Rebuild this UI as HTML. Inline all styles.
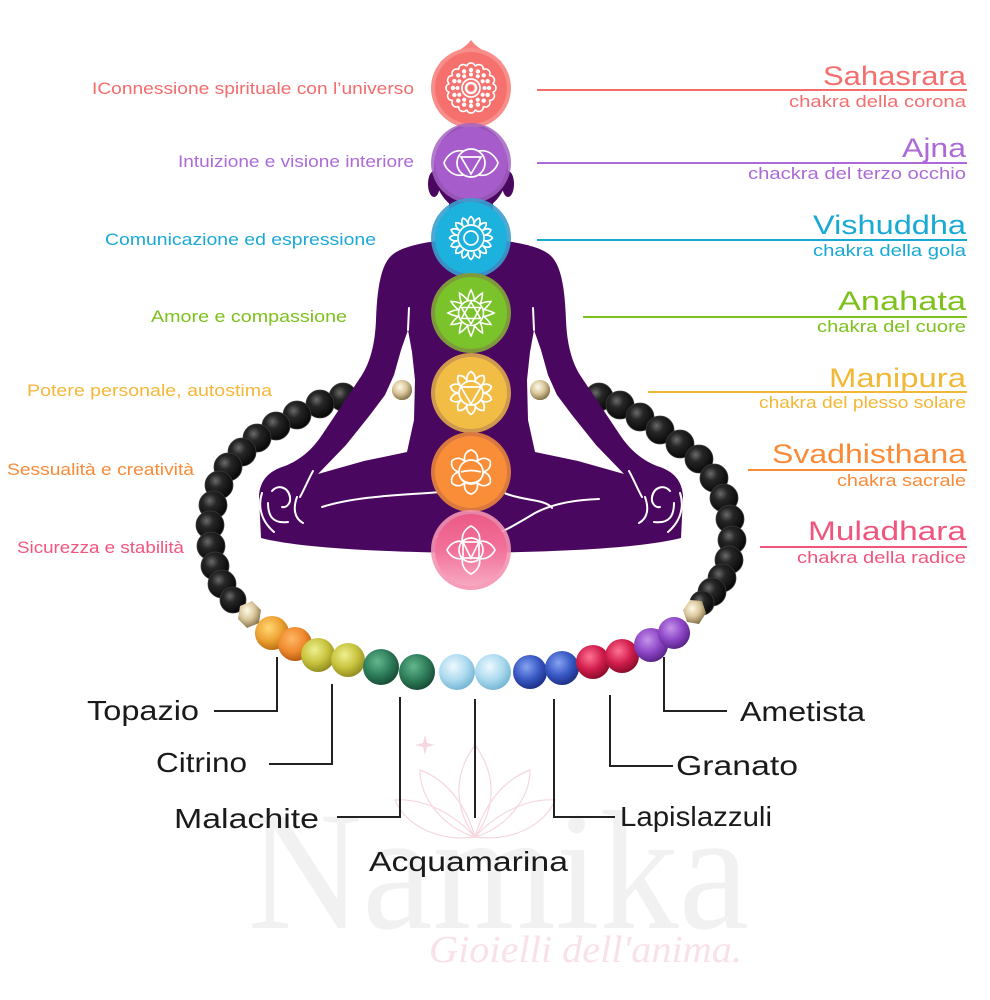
<!DOCTYPE html>
<html><head><meta charset="utf-8"><style>
html,body{margin:0;padding:0;background:#fff;}
svg{display:block;}
text{font-family:"Liberation Sans","DejaVu Sans",sans-serif;}
</style></head><body>
<svg width="990" height="1000" viewBox="0 0 990 1000" xmlns="http://www.w3.org/2000/svg">
<defs>
<radialGradient id="gBlk" cx="38%" cy="35%" r="70%"><stop offset="0" stop-color="#6a6a6a"/><stop offset="0.35" stop-color="#262626"/><stop offset="1" stop-color="#050505"/></radialGradient>
<radialGradient id="gGold" cx="40%" cy="35%" r="70%"><stop offset="0" stop-color="#fffbe8"/><stop offset="0.5" stop-color="#d9c59a"/><stop offset="1" stop-color="#7a6840"/></radialGradient>
<radialGradient id="gT1" cx="40%" cy="35%" r="70%"><stop offset="0" stop-color="#ffd873"/><stop offset="0.55" stop-color="#eda232"/><stop offset="1" stop-color="#b5670f"/></radialGradient>
<radialGradient id="gT2" cx="40%" cy="35%" r="70%"><stop offset="0" stop-color="#ffb765"/><stop offset="0.55" stop-color="#ef8a2e"/><stop offset="1" stop-color="#b0550e"/></radialGradient>
<radialGradient id="gCi" cx="40%" cy="35%" r="70%"><stop offset="0" stop-color="#eef091"/><stop offset="0.55" stop-color="#c8c33e"/><stop offset="1" stop-color="#8a861c"/></radialGradient>
<radialGradient id="gMa" cx="40%" cy="35%" r="70%"><stop offset="0" stop-color="#63b88e"/><stop offset="0.55" stop-color="#2e7d5a"/><stop offset="1" stop-color="#154630"/></radialGradient>
<radialGradient id="gAq" cx="40%" cy="35%" r="70%"><stop offset="0" stop-color="#eef9fe"/><stop offset="0.55" stop-color="#acdaef"/><stop offset="1" stop-color="#6eb0d0"/></radialGradient>
<radialGradient id="gLa" cx="40%" cy="35%" r="70%"><stop offset="0" stop-color="#86a3f2"/><stop offset="0.55" stop-color="#3858c4"/><stop offset="1" stop-color="#1a2b7c"/></radialGradient>
<radialGradient id="gGa" cx="40%" cy="35%" r="70%"><stop offset="0" stop-color="#ff7393"/><stop offset="0.55" stop-color="#d01c4c"/><stop offset="1" stop-color="#820a27"/></radialGradient>
<radialGradient id="gAm" cx="40%" cy="35%" r="70%"><stop offset="0" stop-color="#c693ea"/><stop offset="0.55" stop-color="#8c45c6"/><stop offset="1" stop-color="#542080"/></radialGradient>
<linearGradient id="gMul" x1="0" y1="0" x2="0" y2="1"><stop offset="0" stop-color="#ec5a87"/><stop offset="0.5" stop-color="#f2719a"/><stop offset="1" stop-color="#f7a9c2"/></linearGradient>

<path id="pS" d="M -4.29 -21.58 A 4.4 4.4 0 0 1 4.29 -21.58"/>
<circle id="dA" cx="0" cy="-13.5" r="2"/>
<circle id="dB" cx="0" cy="-18" r="2.2"/>
<path id="pV" d="M -2.73 -13.7 Q -3.4 -19 0 -21.5 Q 3.4 -19 2.73 -13.7"/>
<path id="pA" d="M -3.36 -12.55 Q -2.8 -18 0 -23 Q 2.8 -18 3.36 -12.55"/>
<path id="pM" d="M -3.7 -11.4 Q -5.5 -18 0 -21.5 Q 5.5 -18 3.7 -11.4"/>
<path id="pSv" d="M -6 -10.4 C -8 -17 -4 -21 0 -22 C 4 -21 8 -17 6 -10.4"/>
<path id="pMu" d="M -8.5 -8.5 C -10 -17 -4 -22 0 -24 C 4 -22 10 -17 8.5 -8.5"/>
</defs>

<!-- watermark -->
<g fill="none" stroke="#f6d6df" stroke-width="1.2">
<path d="M 475 837 C 452 805 455 772 475 745 C 495 772 498 805 475 837 Z"/>
<path d="M 475 837 C 445 828 420 800 420 770 C 447 780 466 805 475 837"/>
<path d="M 475 837 C 505 828 530 800 530 770 C 503 780 484 805 475 837"/>
<path d="M 475 837 C 438 842 405 825 395 800 C 425 798 455 815 475 837"/>
<path d="M 475 837 C 512 842 545 825 555 800 C 525 798 495 815 475 837"/>
<path d="M 425 735 L 427 743 L 435 745 L 427 747 L 425 755 L 423 747 L 415 745 L 423 743 Z" fill="#f6d6df" stroke="none"/>
</g>
<text x="248" y="928" font-size="170" fill="#f1f1f1" textLength="501" lengthAdjust="spacingAndGlyphs" style="font-family:'Liberation Serif',serif">Namika</text>
<text x="429" y="962" font-size="38" fill="#f9e1e8" font-style="italic" textLength="313" lengthAdjust="spacingAndGlyphs" style="font-family:'Liberation Serif',serif">Gioielli dell'anima.</text>

<!-- black beads bracelet -->
<g fill="url(#gBlk)" stroke="#3a3a3a" stroke-width="0.8">
<circle cx="343" cy="397" r="14"/><circle cx="320" cy="404" r="14"/><circle cx="297" cy="415" r="14"/><circle cx="276" cy="426" r="14"/><circle cx="257" cy="438" r="14"/><circle cx="242" cy="452" r="14"/><circle cx="228" cy="467" r="14"/><circle cx="219" cy="485" r="14"/><circle cx="213" cy="505" r="14"/><circle cx="210" cy="525" r="14"/><circle cx="211" cy="546" r="14"/><circle cx="215" cy="566" r="14"/><circle cx="222" cy="584" r="14"/><circle cx="233" cy="600" r="13"/>
<circle cx="599" cy="397" r="14"/><circle cx="620" cy="405" r="14"/><circle cx="640" cy="417" r="14"/><circle cx="660" cy="430" r="14"/><circle cx="680" cy="444" r="14"/><circle cx="699" cy="459" r="14"/><circle cx="714" cy="478" r="14"/><circle cx="724" cy="498" r="14"/><circle cx="730" cy="519" r="14"/><circle cx="732" cy="540" r="14"/><circle cx="729" cy="560" r="14"/><circle cx="722" cy="578" r="14"/><circle cx="712" cy="592" r="14"/><circle cx="702" cy="603" r="12"/>
</g>
<circle cx="402" cy="390" r="10" fill="url(#gGold)"/>
<circle cx="540" cy="390" r="10" fill="url(#gGold)"/>
<polygon points="240,606 252,601 261,610 259,623 247,628 238,619" fill="url(#gGold)"/>
<polygon points="683,610 690,600 702,601 706,613 699,624 687,622" fill="url(#gGold)"/>

<!-- colored beads -->
<circle cx="272" cy="633" r="17" fill="url(#gT1)"/>
<circle cx="295" cy="644" r="17" fill="url(#gT2)"/>
<circle cx="318" cy="655" r="17" fill="url(#gCi)"/>
<circle cx="348" cy="660" r="17" fill="url(#gCi)"/>
<circle cx="381" cy="667" r="18" fill="url(#gMa)"/>
<circle cx="417" cy="672" r="18" fill="url(#gMa)"/>
<circle cx="457" cy="672" r="18" fill="url(#gAq)"/>
<circle cx="493" cy="672" r="18" fill="url(#gAq)"/>
<circle cx="530" cy="672" r="17" fill="url(#gLa)"/>
<circle cx="562" cy="668" r="17" fill="url(#gLa)"/>
<circle cx="593" cy="662" r="17" fill="url(#gGa)"/>
<circle cx="622" cy="656" r="17" fill="url(#gGa)"/>
<circle cx="651" cy="645" r="17" fill="url(#gAm)"/>
<circle cx="674" cy="633" r="16" fill="url(#gAm)"/>

<!-- body -->
<g fill="#4a075f">
<ellipse cx="471" cy="168" rx="37" ry="44"/>
<ellipse cx="434" cy="184" rx="6" ry="13"/>
<ellipse cx="508" cy="184" rx="6" ry="13"/>
<rect x="449" y="200" width="44" height="48"/>
<path fill-rule="evenodd" d="M 445 240 C 418 243 398 248 390 257 C 380 268 377 292 376 320 C 375 345 370 362 362 375 L 322 435 C 312 450 300 460 285 466 C 268 471 260 481 259 496 L 261 538 C 300 548 380 552 471 553 C 562 552 642 548 681 538 L 683 496 C 682 481 674 471 657 466 C 642 460 630 450 620 435 L 580 375 C 572 362 567 345 566 320 C 565 292 562 268 552 257 C 544 248 524 243 497 240 Z
M 408 330 L 401 350 L 394 375 L 385 395 L 370 415 L 346 445 L 318 474 L 364 461 L 407 452 L 414 420 L 415 380 L 412 352 Z
M 534 330 L 541 350 L 548 375 L 557 395 L 572 415 L 596 445 L 624 474 L 578 461 L 535 452 L 528 420 L 527 380 L 530 352 Z"/>
</g>
<circle cx="402" cy="390" r="10" fill="url(#gGold)"/>
<circle cx="540" cy="390" r="10" fill="url(#gGold)"/>

<!-- white line art on body -->
<g fill="none" stroke="#fff" stroke-width="2" stroke-linecap="round">
<path d="M 409 308 L 408 330"/>
<path d="M 533 308 L 534 330"/>
<path d="M 322 507 C 360 495 410 495 440 492 C 450 490 455 486 458 482"/>
<path d="M 486 482 C 500 494 515 497 532 500 C 545 502 550 505 552 508"/>
<path d="M 599 499 C 570 500 550 505 535 513 C 520 522 510 528 503 531 C 480 534 455 535 437 537"/>
<g id="handL">
<path d="M 313 471 C 308 480 305 488 300 497"/>
<path d="M 262 493 C 258 505 260 520 274 532"/>
<path d="M 272 491 C 278 484 288 487 290 497 C 291 504 286 508 282 507"/>
<path d="M 268 503 C 268 515 272 524 288 522"/>
<path d="M 297 497 C 293 508 294 518 303 523"/>
</g>
<use href="#handL" transform="translate(942,0) scale(-1,1)"/>
</g>

<!-- Sahasrara -->
<path d="M 471 40 C 478 50 492 54 502 62 L 440 62 C 450 54 464 50 471 40 Z" fill="#f7827e"/>
<circle cx="471" cy="88" r="40" fill="#f88e8a"/>
<circle cx="471" cy="88" r="36" fill="#f6716d"/>
<g transform="translate(471,88)" fill="none" stroke="#fff" stroke-width="1.7">
<circle r="5" stroke-width="2.6"/>
<circle r="9"/>
<g fill="#fff" stroke="none">
<use href="#dA"/><use href="#dA" transform="rotate(30)"/><use href="#dA" transform="rotate(60)"/><use href="#dA" transform="rotate(90)"/><use href="#dA" transform="rotate(120)"/><use href="#dA" transform="rotate(150)"/><use href="#dA" transform="rotate(180)"/><use href="#dA" transform="rotate(210)"/><use href="#dA" transform="rotate(240)"/><use href="#dA" transform="rotate(270)"/><use href="#dA" transform="rotate(300)"/><use href="#dA" transform="rotate(330)"/>
<use href="#dB"/><use href="#dB" transform="rotate(22.5)"/><use href="#dB" transform="rotate(45)"/><use href="#dB" transform="rotate(67.5)"/><use href="#dB" transform="rotate(90)"/><use href="#dB" transform="rotate(112.5)"/><use href="#dB" transform="rotate(135)"/><use href="#dB" transform="rotate(157.5)"/><use href="#dB" transform="rotate(180)"/><use href="#dB" transform="rotate(202.5)"/><use href="#dB" transform="rotate(225)"/><use href="#dB" transform="rotate(247.5)"/><use href="#dB" transform="rotate(270)"/><use href="#dB" transform="rotate(292.5)"/><use href="#dB" transform="rotate(315)"/><use href="#dB" transform="rotate(337.5)"/>
</g>
<use href="#pS"/><use href="#pS" transform="rotate(22.5)"/><use href="#pS" transform="rotate(45)"/><use href="#pS" transform="rotate(67.5)"/><use href="#pS" transform="rotate(90)"/><use href="#pS" transform="rotate(112.5)"/><use href="#pS" transform="rotate(135)"/><use href="#pS" transform="rotate(157.5)"/><use href="#pS" transform="rotate(180)"/><use href="#pS" transform="rotate(202.5)"/><use href="#pS" transform="rotate(225)"/><use href="#pS" transform="rotate(247.5)"/><use href="#pS" transform="rotate(270)"/><use href="#pS" transform="rotate(292.5)"/><use href="#pS" transform="rotate(315)"/><use href="#pS" transform="rotate(337.5)"/>
</g>

<!-- Ajna -->
<circle cx="471" cy="163" r="40" fill="#a463c6" opacity="0.85"/>
<circle cx="471" cy="163" r="36" fill="#a65dcb"/>
<g transform="translate(471,163)" fill="none" stroke="#fff" stroke-width="1.7">
<circle r="14"/>
<path d="M -10 -6 L 10 -6 L 0 11 Z"/>
<path d="M -8 -12 C -18 -14 -25 -6 -27 0 C -25 6 -18 14 -8 12"/>
<path d="M 8 -12 C 18 -14 25 -6 27 0 C 25 6 18 14 8 12"/>
</g>

<!-- Vishuddha -->
<circle cx="471" cy="238" r="40" fill="#3a9fcf" opacity="0.9"/>
<circle cx="471" cy="238" r="36" fill="#1db2de"/>
<g transform="translate(471,238)" fill="none" stroke="#fff" stroke-width="1.7">
<circle r="7"/>
<circle r="13"/>
<use href="#pV"/><use href="#pV" transform="rotate(22.5)"/><use href="#pV" transform="rotate(45)"/><use href="#pV" transform="rotate(67.5)"/><use href="#pV" transform="rotate(90)"/><use href="#pV" transform="rotate(112.5)"/><use href="#pV" transform="rotate(135)"/><use href="#pV" transform="rotate(157.5)"/><use href="#pV" transform="rotate(180)"/><use href="#pV" transform="rotate(202.5)"/><use href="#pV" transform="rotate(225)"/><use href="#pV" transform="rotate(247.5)"/><use href="#pV" transform="rotate(270)"/><use href="#pV" transform="rotate(292.5)"/><use href="#pV" transform="rotate(315)"/><use href="#pV" transform="rotate(337.5)"/>
</g>

<!-- Anahata -->
<circle cx="471" cy="313" r="40" fill="#7f9a3a"/>
<circle cx="471" cy="313" r="36" fill="#7bc32a"/>
<g transform="translate(471,313)" fill="none" stroke="#fff" stroke-width="1.6">
<circle r="12.5"/>
<path d="M 0 -11 L 9.5 5.5 L -9.5 5.5 Z"/>
<path d="M 0 11 L 9.5 -5.5 L -9.5 -5.5 Z"/>
<use href="#pA"/><use href="#pA" transform="rotate(30)"/><use href="#pA" transform="rotate(60)"/><use href="#pA" transform="rotate(90)"/><use href="#pA" transform="rotate(120)"/><use href="#pA" transform="rotate(150)"/><use href="#pA" transform="rotate(180)"/><use href="#pA" transform="rotate(210)"/><use href="#pA" transform="rotate(240)"/><use href="#pA" transform="rotate(270)"/><use href="#pA" transform="rotate(300)"/><use href="#pA" transform="rotate(330)"/>
</g>

<!-- Manipura -->
<circle cx="471" cy="393" r="40" fill="#cf9a4e"/>
<circle cx="471" cy="393" r="36" fill="#f2bd45"/>
<g transform="translate(471,393)" fill="none" stroke="#fff" stroke-width="1.7">
<circle r="12"/>
<path d="M -10 -6 L 10 -6 L 0 11 Z"/>
<use href="#pM"/><use href="#pM" transform="rotate(36)"/><use href="#pM" transform="rotate(72)"/><use href="#pM" transform="rotate(108)"/><use href="#pM" transform="rotate(144)"/><use href="#pM" transform="rotate(180)"/><use href="#pM" transform="rotate(216)"/><use href="#pM" transform="rotate(252)"/><use href="#pM" transform="rotate(288)"/><use href="#pM" transform="rotate(324)"/>
</g>

<!-- Svadhisthana -->
<circle cx="471" cy="472" r="40" fill="#d9783f"/>
<circle cx="471" cy="472" r="36" fill="#fa8e38"/>
<g transform="translate(471,472)" fill="none" stroke="#fff" stroke-width="1.7">
<circle r="12"/>
<path d="M -12 1 A 12 10 0 0 0 12 1"/>
<path d="M -10 0 Q 0 -3 10 0"/>
<use href="#pSv"/><use href="#pSv" transform="rotate(60)"/><use href="#pSv" transform="rotate(120)"/><use href="#pSv" transform="rotate(180)"/><use href="#pSv" transform="rotate(240)"/><use href="#pSv" transform="rotate(300)"/>
</g>

<!-- Muladhara -->
<circle cx="471" cy="550" r="40" fill="#f593b1" opacity="0.9"/>
<circle cx="471" cy="550" r="36" fill="url(#gMul)"/>
<g transform="translate(471,550)" fill="none" stroke="#fff" stroke-width="1.7">
<circle r="12"/>
<rect x="-8" y="-8" width="16" height="16"/>
<path d="M -8 -8 L 0 8 L 8 -8"/>
<use href="#pMu"/><use href="#pMu" transform="rotate(90)"/><use href="#pMu" transform="rotate(180)"/><use href="#pMu" transform="rotate(270)"/>
</g>

<!-- right label lines -->
<g stroke-width="2">
<line x1="537" y1="90" x2="967" y2="90" stroke="#f56c6c"/>
<line x1="537" y1="163" x2="967" y2="163" stroke="#ab6ad8"/>
<line x1="537" y1="240" x2="967" y2="240" stroke="#18a9d5"/>
<line x1="583" y1="317" x2="967" y2="317" stroke="#7cc11c"/>
<line x1="648" y1="392" x2="967" y2="392" stroke="#f3b736"/>
<line x1="748" y1="470" x2="967" y2="470" stroke="#f98b38"/>
<line x1="760" y1="547" x2="967" y2="547" stroke="#f1557e"/>
</g>

<!-- right titles -->
<g font-size="27">
<text x="823" y="85" fill="#f46e6e" textLength="143" lengthAdjust="spacingAndGlyphs">Sahasrara</text>
<text x="902" y="157" fill="#ab6ad8" textLength="64" lengthAdjust="spacingAndGlyphs">Ajna</text>
<text x="813" y="234" fill="#18a9d5" textLength="153" lengthAdjust="spacingAndGlyphs">Vishuddha</text>
<text x="838" y="310" fill="#7cc11c" textLength="128" lengthAdjust="spacingAndGlyphs">Anahata</text>
<text x="829" y="387" fill="#f3b736" textLength="137" lengthAdjust="spacingAndGlyphs">Manipura</text>
<text x="772" y="463" fill="#f98b38" textLength="194" lengthAdjust="spacingAndGlyphs">Svadhisthana</text>
<text x="808" y="540" fill="#f1557e" textLength="158" lengthAdjust="spacingAndGlyphs">Muladhara</text>
</g>
<g font-size="17">
<text x="789" y="107" fill="#f46e6e" textLength="177" lengthAdjust="spacingAndGlyphs">chakra della corona</text>
<text x="748" y="179" fill="#ab6ad8" textLength="218" lengthAdjust="spacingAndGlyphs">chackra del terzo occhio</text>
<text x="813" y="256" fill="#18a9d5" textLength="153" lengthAdjust="spacingAndGlyphs">chakra della gola</text>
<text x="817" y="332" fill="#7cc11c" textLength="149" lengthAdjust="spacingAndGlyphs">chakra del cuore</text>
<text x="759" y="408" fill="#f3b736" textLength="207" lengthAdjust="spacingAndGlyphs">chakra del plesso solare</text>
<text x="837" y="486" fill="#f98b38" textLength="129" lengthAdjust="spacingAndGlyphs">chakra sacrale</text>
<text x="797" y="563" fill="#f1557e" textLength="169" lengthAdjust="spacingAndGlyphs">chakra della radice</text>
</g>

<!-- left descriptions -->
<g font-size="17">
<text x="92" y="94" fill="#f36c6c" textLength="322" lengthAdjust="spacingAndGlyphs">IConnessione spirituale con l’universo</text>
<text x="178" y="167" fill="#ad6ad9" textLength="236" lengthAdjust="spacingAndGlyphs">Intuizione e visione interiore</text>
<text x="105" y="245" fill="#1aa9d6" textLength="271" lengthAdjust="spacingAndGlyphs">Comunicazione ed espressione</text>
<text x="151" y="322" fill="#7cc11c" textLength="196" lengthAdjust="spacingAndGlyphs">Amore e compassione</text>
<text x="27" y="396" fill="#f4b737" textLength="245" lengthAdjust="spacingAndGlyphs">Potere personale, autostima</text>
<text x="7" y="475" fill="#f98b38" textLength="187" lengthAdjust="spacingAndGlyphs">Sessualità e creatività</text>
<text x="17" y="553" fill="#f1557e" textLength="167" lengthAdjust="spacingAndGlyphs">Sicurezza e stabilità</text>
</g>

<!-- bottom connectors -->
<g fill="none" stroke="#222" stroke-width="2">
<path d="M 214 711 H 277 V 657"/>
<path d="M 269 764 H 332 V 684"/>
<path d="M 337 817 H 400 V 697"/>
<path d="M 475 699 V 818"/>
<path d="M 615 817 H 554 V 699"/>
<path d="M 673 766 H 610 V 695"/>
<path d="M 727 711 H 664 V 657"/>
</g>

<!-- bottom labels -->
<g font-size="28" fill="#1a1a1a">
<text x="87" y="720" textLength="112" lengthAdjust="spacingAndGlyphs">Topazio</text>
<text x="156" y="772" textLength="91" lengthAdjust="spacingAndGlyphs">Citrino</text>
<text x="174" y="828" textLength="145" lengthAdjust="spacingAndGlyphs">Malachite</text>
<text x="369" y="871" textLength="199" lengthAdjust="spacingAndGlyphs">Acquamarina</text>
<text x="620" y="826" textLength="152" lengthAdjust="spacingAndGlyphs">Lapislazzuli</text>
<text x="676" y="775" textLength="122" lengthAdjust="spacingAndGlyphs">Granato</text>
<text x="740" y="721" textLength="125" lengthAdjust="spacingAndGlyphs">Ametista</text>
</g>
</svg>
</body></html>
